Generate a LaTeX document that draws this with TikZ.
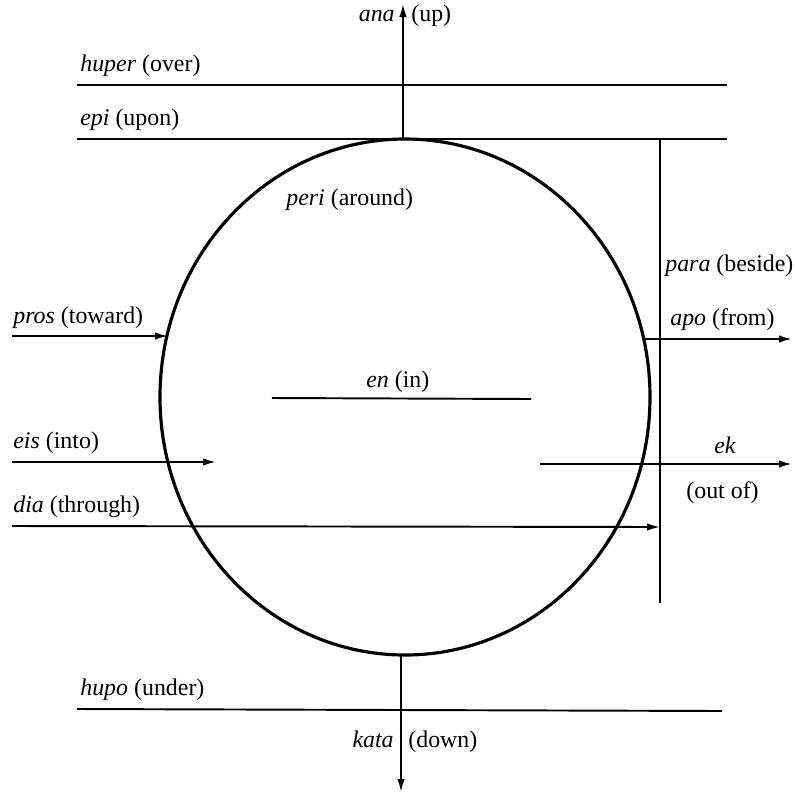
\documentclass[tikz,border=0pt]{standalone}
\usepackage{fontspec}
\setmainfont{Liberation Serif}
\usepackage{tikz}
\usetikzlibrary{positioning,arrows.meta}

\begin{document}
\begin{tikzpicture}[
  x=0.02cm, y=-0.02cm,
  line/.style={line width=1.1pt},
  arrow/.style={-{Latex[length=2.6mm, width=1.5mm]}, line width=1.1pt},
  word/.style={font=\fontsize{13.6}{16}\selectfont, anchor=base west, inner sep=0pt},
]
\useasboundingbox (0,0) rectangle (795,796);

% the place
\draw[line width=1.8pt] (405,397) ellipse [x radius=245, y radius=258];
\coordinate (top) at (403,139);
\coordinate (bot) at (401,655);

% vertical axis
\coordinate (up) at (403,4);
\coordinate (down) at (401,792);
\draw[arrow] (top) -- (up);
\draw[arrow] (bot) -- (down);
\node[word, anchor=base east] (ana) at (395,21) {\textit{ana}};
\node[word] (anaup) at (411,21) {(up)};
\node[word, anchor=base east] (kata) at (394,747) {\textit{kata}};
\node[word] (katadown) at (408,747) {(down)};

% over, upon, under
\coordinate (huperL) at (77,85);
\coordinate (huperR) at (727,85);
\coordinate (epiL) at (77,139);
\coordinate (epiR) at (727,139);
\coordinate (hupoL) at (77,709);
\coordinate (hupoR) at (722,711);
\draw[line] (huperL) -- (huperR);
\draw[line] (epiL) -- (epiR);
\draw[line] (hupoL) -- (hupoR);
\node[word] (huper) at (80,71) {\textit{huper} (over)};
\node[word] (epi) at (80,125) {\textit{epi} (upon)};
\node[word] (hupo) at (80,695) {\textit{hupo} (under)};

% beside
\coordinate (paraT) at (660,139);
\coordinate (paraB) at (660,603);
\draw[line] (paraT) -- (paraB);
\node[word] (para) at (665,271) {\textit{para} (beside)};

% in, around
\coordinate (enL) at (272,398);
\coordinate (enR) at (531,399);
\draw[line] (enL) -- (enR);
\node[word] (en) at (366,387) {\textit{en} (in)};
\node[word] (peri) at (286,205) {\textit{peri} (around)};

% left arrows
\coordinate (prosL) at (12,336);
\coordinate (prosR) at (168,336);
\coordinate (eisL) at (12,462);
\coordinate (eisR) at (216,462);
\coordinate (diaL) at (12,526);
\coordinate (diaR) at (660,527);
\draw[arrow] (prosL) -- (prosR);
\draw[arrow] (eisL) -- (eisR);
\draw[arrow] (diaL) -- (diaR);
\node[word] (pros) at (13,323) {\textit{pros} (toward)};
\node[word] (eis) at (13,448) {\textit{eis} (into)};
\node[word] (dia) at (13,512) {\textit{dia} (through)};

% right arrows
\coordinate (apoL) at (643,339);
\coordinate (apoR) at (792,339);
\coordinate (ekL) at (540,464);
\coordinate (ekR) at (792,464);
\draw[arrow] (apoL) -- (apoR);
\draw[arrow] (ekL) -- (ekR);
\node[word] (apo) at (670,325) {\textit{apo} (from)};
\node[word] (ek) at (714,453) {\textit{ek}};
\node[word] (ekout) at (686,498) {(out of)};

\end{tikzpicture}
\end{document}
